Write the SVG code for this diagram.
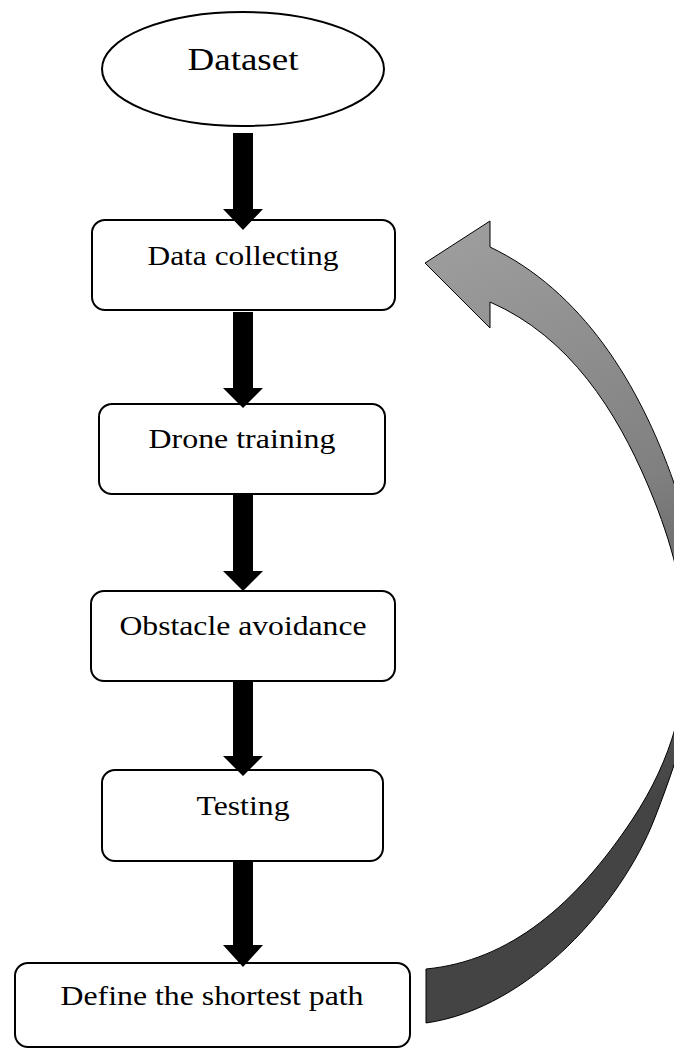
<svg xmlns="http://www.w3.org/2000/svg" width="674" height="1049" viewBox="0 0 674 1049">
  <style>
    .box { fill: #ffffff; stroke: #000000; stroke-width: 2; }
    .lbl { font-family: "Liberation Serif", "Times New Roman", serif; font-size: 28px; fill: #000000; text-anchor: middle; }
    .big { font-size: 31px; }
    .down { fill: #000000; stroke: none; }
    .loop { fill: url(#loopFill); stroke: #000000; stroke-width: 1; }
  </style>
  <defs>
    <linearGradient id="loopFill" gradientUnits="userSpaceOnUse" x1="425" y1="240" x2="660" y2="800">
      <stop offset="0" stop-color="#9e9e9e"/>
      <stop offset="0.5" stop-color="#808080"/>
      <stop offset="1" stop-color="#444444"/>
    </linearGradient>
  </defs>
  <rect width="674" height="1049" fill="#ffffff"/>

  <g id="dataset">
    <ellipse class="box" cx="243" cy="69" rx="141" ry="57"/>
    <text class="lbl big" x="243" y="70" textLength="111" lengthAdjust="spacingAndGlyphs">Dataset</text>
  </g>

  <g id="data-collecting">
    <rect class="box" x="92" y="220" width="303" height="90" rx="13"/>
    <text class="lbl" x="243" y="265" textLength="191" lengthAdjust="spacingAndGlyphs">Data collecting</text>
  </g>

  <g id="drone-training">
    <rect class="box" x="99" y="404" width="286" height="90" rx="13"/>
    <text class="lbl" x="242" y="448" textLength="187" lengthAdjust="spacingAndGlyphs">Drone training</text>
  </g>

  <g id="obstacle-avoidance">
    <rect class="box" x="91" y="591" width="304" height="90" rx="13"/>
    <text class="lbl" x="243" y="635" textLength="247" lengthAdjust="spacingAndGlyphs">Obstacle avoidance</text>
  </g>

  <g id="testing">
    <rect class="box" x="102" y="770" width="281" height="91" rx="13"/>
    <text class="lbl" x="243" y="815" textLength="93" lengthAdjust="spacingAndGlyphs">Testing</text>
  </g>

  <g id="shortest-path">
    <rect class="box" x="15" y="963" width="395" height="84" rx="13"/>
    <text class="lbl" x="212" y="1005" textLength="303" lengthAdjust="spacingAndGlyphs">Define the shortest path</text>
  </g>

  <g id="connectors">
    <!-- block arrows down the main flow -->
    <path class="down" d="M233,133 H253 V209 H263 L243,230 L223,209 H233 Z"/>
    <path class="down" d="M233,312 H253 V388 H263 L243,408 L223,388 H233 Z"/>
    <path class="down" d="M233,494 H253 V571 H263 L243,591 L223,571 H233 Z"/>
    <path class="down" d="M233,681 H253 V756 H263 L243,776 L223,756 H233 Z"/>
    <path class="down" d="M233,860 H253 V945 H263 L243,967 L223,945 H233 Z"/>
    <!-- curved feedback arrow back to data collecting -->
    <path class="loop" d="M490,247 C582,291 639,383 674,483 C709,583 719,655 654,820 C621.5,902.5 531,1008 426,1023 L426,969 C510,961 576,904 632,820 C715.6,694.6 687.4,577.4 647,483 C617,413 570.5,337 490,302 L490,328 L425,263 L490,221 Z"/>
  </g>
</svg>
